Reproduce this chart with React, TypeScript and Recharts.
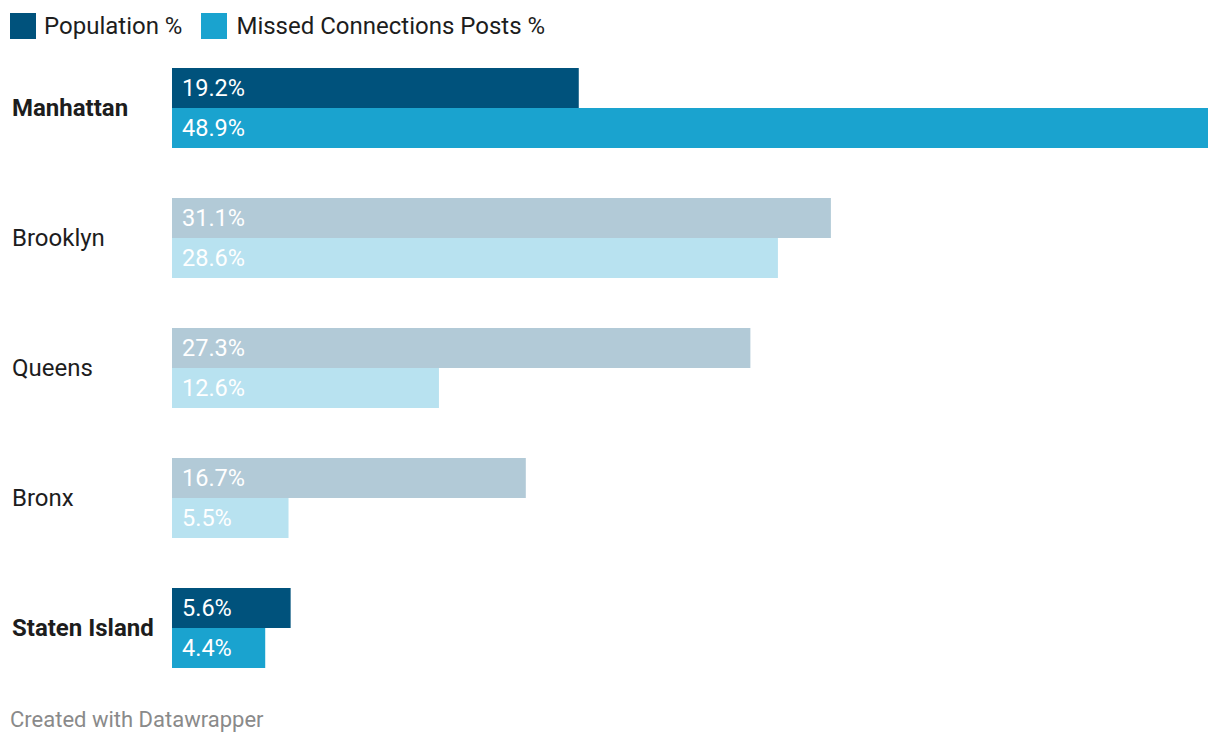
import React from "react";
import { BarChart, Bar, XAxis, YAxis, Cell, LabelList } from "recharts";

const boroughs = ["Manhattan", "Brooklyn", "Queens", "Bronx", "Staten Island"];
const populationPct = [19.2, 31.1, 27.3, 16.7, 5.6];
const postsPct = [48.9, 28.6, 12.6, 5.5, 4.4];
const highlighted = [true, false, false, false, true];

const seriesNames = ["Population %", "Missed Connections Posts %"];
const colors = {
  pop: "#00527c",
  posts: "#1aa3cf",
  popMuted: "#b2cad7",
  postsMuted: "#b8e2f0",
};

const data = boroughs.map((b, i) => ({
  name: b,
  pop: populationPct[i],
  posts: postsPct[i],
  hl: highlighted[i],
}));

const FONT = "Roboto, 'Noto Sans', sans-serif";

const CategoryTick = (props: any) => {
  const { y, payload } = props;
  const idx = boroughs.indexOf(payload.value);
  const bold = highlighted[idx];
  return (
    <text
      x={12}
      y={y}
      dy={8}
      textAnchor="start"
      fontFamily={FONT}
      fontSize={24}
      fontWeight={bold ? 700 : 400}
      fill="#1d1d1d"
    >
      {payload.value}
    </text>
  );
};

const fmt = (v: any) => `${Number(v).toFixed(1)}%`;

export default function App() {
  return (
    <div
      style={{
        position: "absolute",
        left: 0,
        top: 0,
        width: 1220,
        height: 746,
        background: "#fff",
        fontFamily: FONT,
      }}
    >
      <div style={{ position: "absolute", left: 10, top: 13, display: "flex", alignItems: "center" }}>
        <div style={{ width: 26, height: 26, background: colors.pop }} />
        <span style={{ marginLeft: 8, fontSize: 24, color: "#1d1d1d", lineHeight: "26px" }}>{seriesNames[0]}</span>
        <div style={{ width: 26, height: 26, background: colors.posts, marginLeft: 19 }} />
        <span style={{ marginLeft: 9, fontSize: 24, color: "#1d1d1d", lineHeight: "26px" }}>{seriesNames[1]}</span>
      </div>
      <div style={{ position: "absolute", left: 0, top: 0 }}>
        <BarChart
          width={1220}
          height={746}
          data={data}
          layout="vertical"
          margin={{ top: 43, right: 12, bottom: 53, left: 0 }}
          barGap={0}
        >
          <XAxis type="number" domain={[0, 48.9]} hide />
          <YAxis
            type="category"
            dataKey="name"
            width={172}
            axisLine={false}
            tickLine={false}
            tick={<CategoryTick />}
          />
          <Bar dataKey="pop" barSize={40} isAnimationActive={false}>
            {data.map((d, i) => (
              <Cell key={i} fill={d.hl ? colors.pop : colors.popMuted} />
            ))}
            <LabelList
              dataKey="pop"
              position="insideLeft"
              offset={10}
              formatter={fmt}
              fill="#fff"
              fontSize={23.5}
              fontFamily={FONT}
            />
          </Bar>
          <Bar dataKey="posts" barSize={40} isAnimationActive={false}>
            {data.map((d, i) => (
              <Cell key={i} fill={d.hl ? colors.posts : colors.postsMuted} />
            ))}
            <LabelList
              dataKey="posts"
              position="insideLeft"
              offset={10}
              formatter={fmt}
              fill="#fff"
              fontSize={23.5}
              fontFamily={FONT}
            />
          </Bar>
        </BarChart>
      </div>
      <div
        style={{
          position: "absolute",
          left: 10,
          top: 707,
          fontSize: 22,
          color: "#8a8a8a",
          lineHeight: "26px",
        }}
      >
        Created with Datawrapper
      </div>
    </div>
  );
}
